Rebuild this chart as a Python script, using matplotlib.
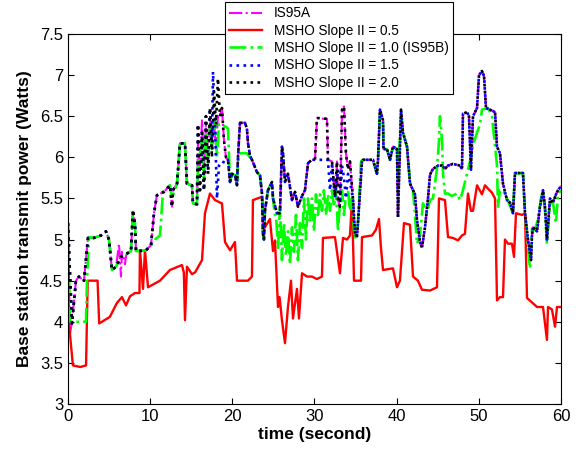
import matplotlib.pyplot as plt
from matplotlib.ticker import FuncFormatter

# time (s), power (W)
is95a_t = [0, 0.24, 0.49, 0.97, 1.34, 1.95, 2.43, 3.16, 4.02, 4.62, 4.99, 5.23, 5.35, 5.84, 5.96, 6.21, 6.45,
           6.57, 6.94, 7.06, 7.18, 7.67, 7.91, 8.15, 8.28, 8.64, 9.49, 10.1, 10.47, 10.83, 11.68, 12.41, 12.66,
           12.78, 13.27, 13.63, 14.24, 14.48, 15.09, 15.21, 15.7, 15.82, 16.06, 16.31, 16.55, 16.79, 17.04,
           17.28, 17.52, 17.77, 18.01, 18.25, 18.5, 18.74, 18.99, 19.23, 19.47, 19.72, 19.96, 20.32, 20.57,
           20.69, 20.93, 21.54, 21.78, 21.91, 22.15, 22.39, 23.0, 23.37, 23.61, 23.73, 23.85, 23.97, 24.34,
           24.83, 24.95, 25.44, 25.8, 26.04, 26.17, 26.41, 26.77, 27.26, 27.63, 27.99, 28.48, 28.84, 29.21,
           29.69, 30.06, 30.3, 31.03, 31.52, 31.64, 32.13, 32.49, 32.74, 32.86, 33.1, 33.35, 33.59, 33.83,
           34.08, 34.32, 34.68, 34.93, 35.17, 35.29, 35.78, 35.9, 37.12, 37.6, 37.73, 37.97, 38.34, 38.4,
           38.82, 39.19, 39.55, 40.04, 40.16, 40.53, 40.77, 41.26, 41.62, 41.99, 42.23, 42.47, 42.84, 43.08,
           43.45, 43.81, 44.06, 44.42, 45.03, 45.52, 45.88, 46.25, 46.85, 47.71, 47.95, 48.07, 48.56, 48.8,
           49.04, 49.29, 49.78, 50.02, 50.38, 50.63, 50.87, 51.36, 51.97, 52.21, 52.57, 52.82, 52.94, 53.43,
           53.79, 54.16, 54.4, 55.37, 55.62, 55.98, 56.35, 56.47, 56.59, 57.08, 57.44, 57.81, 58.05, 58.29,
           58.66, 59.02, 59.39, 59.63, 60]
is95a_v = [5.2, 3.85, 4.0, 4.5, 4.55, 4.5, 5.02, 5.02, 5.05, 5.1, 5.0, 4.75, 4.63, 4.67, 4.75, 4.95, 4.55,
           4.85, 4.7, 4.8, 4.83, 4.86, 5.36, 5.2, 4.86, 4.86, 4.87, 4.93, 5.32, 5.54, 5.58, 5.66, 5.4,
           5.6, 5.68, 6.17, 6.17, 5.68, 5.66, 5.44, 5.43, 6.2, 5.9, 6.45, 5.85, 6.4, 5.9,
           6.5, 6.1, 6.45, 6.1, 6.5, 6.5, 6.6, 6.2, 6.0, 5.97, 5.7, 5.8, 5.78, 5.66,
           6.0, 6.42, 6.42, 6.35, 6.17, 6.02, 5.97, 5.82, 5.78, 5.56, 5.07, 5.0, 5.35, 5.6,
           5.7, 5.5, 5.32, 5.32, 6.13, 6.05, 5.7, 5.8, 5.48, 5.58, 5.4, 5.53, 5.6, 5.93,
           5.97, 5.97, 6.48, 6.47, 6.47, 5.97, 5.95, 5.53, 5.95, 5.48, 5.4, 6.58, 6.62, 6.05,
           5.85, 5.95, 5.5, 5.07, 5.03, 5.2, 5.95, 5.97, 5.97, 5.8, 5.97, 6.58, 6.45, 6.1,
           6.1, 5.97, 6.13, 6.1, 5.27, 6.58, 6.3, 6.13, 5.68, 5.6, 5.55, 5.24, 4.97, 4.9,
           5.15, 5.5, 5.79, 5.86, 5.9, 5.9, 5.86, 5.9, 5.92, 5.9, 5.86, 6.53, 6.55, 6.5,
           5.85, 6.5, 6.6, 7.0, 7.05, 6.99, 6.6, 6.58, 6.55, 6.13, 6.05, 5.8, 5.68, 5.48,
           5.45, 5.32, 5.81, 5.81, 5.32, 5.0, 4.75, 5.05, 5.15, 5.1, 5.4, 5.6, 5.4, 5.0,
           5.5, 5.45, 5.55, 5.6, 5.65]

slope05_t = [0, 0.1, 0.6, 1.5, 2.2, 2.4, 3.6, 3.8, 5.1, 5.96, 6.57, 7.06, 7.55, 8.15, 8.7, 8.76, 9.13, 9.37,
             9.74, 11.2, 12.41, 13.87, 14.1, 14.24, 14.48, 15.09, 15.46, 16.31, 16.67, 17.28, 17.89, 18.74,
             19.11, 19.72, 20.32, 20.57, 21.9, 22.39, 22.51, 23.61, 23.97, 24.58, 24.95, 25.19, 25.56, 25.75,
             26.04, 26.41, 26.77, 27.14, 27.38, 27.87, 28.11, 28.48, 29.09, 29.69, 30.3, 30.91, 31.03, 32.49,
             33.1, 33.47, 33.95, 34.32, 34.56, 34.81, 35.66, 35.78, 37.0, 37.48, 37.85, 38.09, 38.34, 39.55,
             40.04, 40.4, 40.89, 41.62, 41.99, 42.59, 43.08, 44.06, 44.91, 45.15, 45.88, 46.25, 46.85, 47.46,
             47.95, 48.31, 48.68, 49.04, 49.29, 49.78, 50.38, 50.75, 51.11, 51.6, 51.97, 52.21, 52.57, 52.94,
             53.18, 53.55, 54.03, 54.28, 54.52, 55.25, 55.62, 55.86, 57.08, 57.81, 58.29, 58.42, 58.9, 59.27,
             59.51, 60]
slope05_v = [5.2, 4.0, 3.47, 3.45, 3.47, 4.5, 4.5, 3.98, 4.06, 4.23, 4.3, 4.2, 4.31, 4.35, 4.35, 4.87, 4.4, 4.87,
             4.42, 4.5, 4.63, 4.69, 4.6, 4.02, 4.67, 4.58, 4.6, 4.75, 5.32, 5.56, 5.48, 5.44,
             4.97, 4.87, 4.97, 4.5, 4.5, 4.55, 5.48, 5.52, 5.15, 5.25, 4.86, 4.99, 4.18, 4.3,
             4.02, 3.74, 4.18, 4.5, 4.04, 4.4, 4.04, 4.59, 4.55, 4.55, 4.52, 4.55, 5.02, 5.03,
             4.59, 5.02, 5.0, 5.05, 5.48, 4.5, 4.5, 5.03, 5.05, 5.12, 5.25, 4.9, 4.63, 4.65,
             4.42, 4.5, 5.2, 5.18, 4.55, 4.5, 4.39, 4.38, 4.42, 5.5, 5.48, 5.03, 5.02, 4.99,
             5.05, 5.07, 5.56, 5.35, 5.35, 5.66, 5.55, 5.66, 5.62, 5.57, 5.5, 4.26, 4.3, 4.3,
             5.0, 4.95, 4.95, 4.79, 5.32, 5.3, 5.32, 4.29, 4.18, 4.18, 3.78, 4.18, 4.15, 3.94,
             4.18, 4.18]

slope10_t = [0, 0.24, 2.19, 2.31, 2.56, 3.16, 4.02, 4.62, 4.99, 5.23, 5.35, 5.84, 6.45, 7.18, 7.67, 7.91, 8.15,
             8.28, 8.64, 9.49, 10.1, 10.59, 11.2, 11.56, 12.41, 12.66, 13.27, 13.63, 14.24, 14.48, 15.09, 15.21,
             15.7, 15.82, 16.31, 16.55, 16.79, 17.04, 17.28, 17.52, 17.89, 18.13, 18.38, 18.74, 19.23, 19.47,
             19.72, 19.96, 20.32, 20.57, 20.69, 20.93, 21.78, 22.15, 22.39, 23.0, 23.37, 23.61, 23.73, 23.85,
             23.97, 24.34, 24.83, 24.95, 25.19, 25.31, 25.56, 25.8, 26.04, 26.28, 26.53, 26.77, 27.02, 27.26,
             27.5, 27.75, 27.99, 28.23, 28.48, 28.72, 28.97, 29.21, 29.45, 29.69, 29.94, 30.18, 30.42, 30.67,
             30.91, 31.15, 31.4, 31.64, 31.89, 32.13, 32.37, 32.61, 32.86, 33.1, 33.35, 33.59, 33.83, 34.08,
             34.32, 34.56, 34.81, 35.05, 35.29, 35.66, 35.9, 37.12, 37.6, 37.73, 37.97, 38.34, 38.4, 38.82,
             39.19, 39.55, 40.04, 40.16, 40.53, 40.77, 41.26, 41.62, 41.99, 42.23, 42.47, 42.84, 43.2, 43.69,
             44.06, 44.42, 44.91, 45.15, 45.27, 45.52, 45.64, 45.88, 46.25, 46.73, 47.34, 47.71, 48.07, 48.56,
             48.92, 49.29, 49.78, 50.14, 50.38, 51.11, 51.6, 51.97, 52.21, 52.33, 52.57, 52.94, 53.43, 54.16,
             54.4, 55.37, 55.62, 55.98, 56.22, 56.47, 56.84, 57.2, 57.57, 57.81, 58.05, 58.29, 58.66, 59.02,
             59.39, 59.63, 60]
slope10_v = [5.2, 4.0, 4.0, 4.5, 5.03, 5.02, 5.05, 5.1, 5.0, 4.75, 4.63, 4.67, 4.79, 4.83, 4.86, 5.36, 5.2,
             4.86, 4.86, 4.87, 4.93, 5.0, 5.05, 5.58, 5.66, 5.5, 5.68, 6.17, 6.17, 5.68, 5.66, 5.44,
             5.43, 5.9, 6.2, 5.7, 6.3, 5.9, 6.4, 6.1, 6.45, 6.0, 6.4, 6.4, 6.37, 6.35,
             5.7, 5.8, 5.78, 5.66, 5.95, 6.05, 6.05, 6.0, 5.97, 5.82, 5.78, 5.56, 5.07, 5.0,
             5.35, 5.6, 5.7, 5.5, 5.3, 5.3, 4.9, 5.4, 4.75, 5.2, 4.8, 5.1, 4.7, 5.15,
             4.85, 5.3, 4.75, 5.2, 4.9, 5.5, 5.0, 5.5, 5.2, 5.5, 5.1, 5.55, 5.3, 5.55,
             5.35, 5.6, 5.3, 5.55, 5.35, 5.6, 5.4, 5.6, 5.1, 5.45, 5.6, 5.3, 5.55, 5.6,
             5.35, 5.5, 5.1, 5.0, 5.2, 5.95, 5.97, 5.97, 5.8, 5.97, 6.55, 6.4, 6.1, 6.1,
             5.97, 6.13, 6.1, 5.75, 6.5, 6.3, 6.13, 5.7, 5.6, 5.3, 4.95, 5.05, 5.44, 5.32,
             5.48, 5.5, 5.87, 6.2, 6.5, 6.2, 5.8, 5.56, 5.56, 5.53, 5.56, 5.48, 5.6, 5.8,
             5.95, 6.15, 6.3, 6.4, 6.58, 6.6, 6.5, 6.13, 5.9, 5.4, 5.6, 5.6, 5.5, 5.32,
             5.8, 5.81, 5.32, 4.9, 4.65, 5.13, 5.12, 5.25, 5.5, 5.6, 5.35, 4.95, 5.44, 5.45,
             5.2, 5.55, 5.6]

slope15_t = [0, 0.49, 0.97, 1.34, 1.95, 2.43, 3.16, 4.02, 4.62, 4.99, 5.23, 5.35, 5.84, 6.45, 7.18, 7.67, 7.91,
             8.15, 8.28, 8.64, 9.49, 10.1, 10.47, 10.83, 11.68, 12.41, 12.66, 12.78, 13.27, 13.63, 14.24, 14.48,
             15.09, 15.21, 15.7, 15.82, 16.06, 16.31, 16.55, 16.79, 17.04, 17.28, 17.52, 17.65, 17.89, 18.13,
             18.38, 18.74, 19.23, 19.47, 19.72, 19.96, 20.32, 20.57, 20.69, 20.93, 21.54, 21.78, 21.91, 22.15,
             22.39, 23.0, 23.37, 23.61, 23.73, 23.85, 23.97, 24.34, 24.83, 24.95, 25.44, 25.8, 26.04, 26.17,
             26.41, 26.77, 27.26, 27.63, 27.99, 28.48, 28.84, 29.21, 29.69, 30.06, 31.4, 31.64, 31.89, 32.13,
             32.49, 32.86, 33.1, 33.35, 33.59, 33.83, 34.08, 34.32, 34.68, 34.93, 35.17, 35.29, 35.78, 35.9,
             37.12, 37.6, 37.73, 37.97, 38.34, 38.4, 38.82, 39.19, 39.55, 40.04, 40.16, 40.53, 40.77, 41.26,
             41.62, 41.99, 42.23, 42.47, 42.84, 43.08, 43.45, 43.81, 44.06, 44.42, 45.03, 45.52, 45.88, 46.25,
             46.85, 47.71, 47.95, 48.07, 48.56, 48.8, 49.04, 49.29, 49.78, 50.02, 50.38, 50.63, 50.87, 51.36,
             51.97, 52.21, 52.57, 52.82, 52.94, 53.43, 53.79, 54.16, 54.4, 55.37, 55.62, 55.98, 56.35, 56.47,
             56.59, 57.08, 57.44, 57.81, 58.05, 58.29, 58.66, 59.02, 59.39, 59.63, 60]
slope15_v = [5.2, 3.98, 4.5, 4.55, 4.5, 5.02, 5.02, 5.05, 5.1, 5.0, 4.75, 4.63, 4.67, 4.79, 4.83, 4.86, 5.36,
             5.2, 4.86, 4.86, 4.87, 4.93, 5.32, 5.54, 5.58, 5.66, 5.4, 5.6, 5.68, 6.17, 6.17, 5.68,
             5.66, 5.44, 5.43, 6.4, 5.6, 6.3, 5.6, 6.5, 5.8, 6.6, 6.2, 7.04, 6.4, 5.5,
             5.9, 5.95, 5.93, 5.97, 5.7, 5.8, 5.78, 5.66, 6.0, 6.42, 6.42, 6.35, 6.17, 6.02,
             5.97, 5.82, 5.78, 5.56, 5.07, 5.0, 5.35, 5.6, 5.7, 5.5, 5.32, 5.32, 6.13, 6.05,
             5.7, 5.8, 5.48, 5.58, 5.4, 5.53, 5.6, 5.93, 5.97, 5.97, 5.97, 5.97, 5.6, 5.9,
             5.5, 5.85, 5.45, 5.9, 5.75, 5.5, 5.8, 5.7, 5.5, 5.07, 5.03, 5.2, 5.95, 5.97,
             5.97, 5.8, 5.97, 6.58, 6.45, 6.1, 6.1, 5.97, 6.13, 6.1, 5.27, 6.58, 6.3, 6.13,
             5.68, 5.6, 5.55, 5.24, 4.97, 4.9, 5.15, 5.5, 5.79, 5.86, 5.9, 5.9, 5.86, 5.9,
             5.92, 5.9, 5.86, 6.53, 6.55, 6.5, 5.85, 6.5, 6.6, 7.0, 7.05, 6.99, 6.6, 6.58,
             6.55, 6.13, 6.05, 5.8, 5.68, 5.48, 5.45, 5.32, 5.81, 5.81, 5.32, 5.0, 4.75, 5.05,
             5.15, 5.1, 5.4, 5.6, 5.4, 5.0, 5.5, 5.45, 5.55, 5.6, 5.65]

slope20_t = [0, 0.49, 0.97, 1.34, 1.95, 2.43, 3.16, 4.02, 4.62, 4.99, 5.23, 5.35, 5.84, 6.45, 7.18, 7.67, 7.91,
             8.15, 8.28, 8.64, 9.49, 10.1, 10.47, 10.83, 11.68, 12.41, 12.66, 12.78, 13.27, 13.63, 14.24, 14.48,
             15.09, 15.21, 15.7, 15.82, 16.06, 16.31, 16.55, 16.79, 17.04, 17.28, 17.52, 17.77, 18.01, 18.25,
             18.5, 18.74, 18.99, 19.23, 19.47, 19.72, 19.96, 20.32, 20.57, 20.69, 20.93, 21.54, 21.78, 21.91,
             22.15, 22.39, 23.0, 23.37, 23.61, 23.73, 23.85, 23.97, 24.34, 24.83, 24.95, 25.44, 25.8, 26.04,
             26.17, 26.41, 26.77, 27.26, 27.63, 27.99, 28.48, 28.84, 29.21, 29.69, 30.06, 30.3, 31.03, 31.52,
             31.64, 32.13, 32.49, 32.74, 32.86, 33.1, 33.35, 33.59, 33.83, 34.08, 34.32, 34.68, 34.93, 35.17,
             35.29, 35.78, 35.9, 37.12, 37.6, 37.73, 37.97, 38.34, 38.4, 38.82, 39.19, 39.55, 40.04, 40.16,
             40.53, 40.77, 41.26, 41.62, 41.99, 42.23, 42.47, 42.84, 43.08, 43.45, 43.81, 44.06, 44.42, 45.03,
             45.52, 45.88, 46.25, 46.85, 47.71, 47.95, 48.07, 48.56, 48.8, 49.04, 49.29, 49.78, 50.02, 50.38,
             50.63, 50.87, 51.36, 51.97, 52.21, 52.57, 52.82, 52.94, 53.43, 53.79, 54.16, 54.4, 55.37, 55.62,
             55.98, 56.35, 56.47, 56.59, 57.08, 57.44, 57.81, 58.05, 58.29, 58.66, 59.02, 59.39, 59.63, 60]
slope20_v = [5.2, 3.98, 4.5, 4.55, 4.5, 5.02, 5.02, 5.05, 5.1, 5.0, 4.75, 4.63, 4.67, 4.79, 4.83, 4.86, 5.36,
             5.2, 4.86, 4.86, 4.87, 4.93, 5.32, 5.54, 5.58, 5.66, 5.4, 5.6, 5.68, 6.17, 6.17, 5.68,
             5.66, 5.44, 5.43, 6.4, 5.6, 6.3, 5.6, 6.5, 5.8, 6.6, 6.0, 6.8, 6.4, 6.96,
             6.5, 6.6, 6.2, 6.0, 5.97, 5.7, 5.8, 5.78, 5.66, 6.0, 6.42, 6.42, 6.35, 6.17,
             6.02, 5.97, 5.82, 5.78, 5.56, 5.07, 5.0, 5.35, 5.6, 5.7, 5.5, 5.32, 5.32, 6.13,
             6.05, 5.7, 5.8, 5.48, 5.58, 5.4, 5.53, 5.6, 5.93, 5.97, 5.97, 6.48, 6.47, 6.47,
             5.97, 5.95, 5.53, 5.95, 5.48, 5.4, 6.58, 6.62, 6.05, 5.85, 5.95, 5.5, 5.07, 5.03,
             5.2, 5.95, 5.97, 5.97, 5.8, 5.97, 6.58, 6.45, 6.1, 6.1, 5.97, 6.13, 6.1, 5.27,
             6.58, 6.3, 6.13, 5.68, 5.6, 5.55, 5.24, 4.97, 4.9, 5.15, 5.5, 5.79, 5.86, 5.9,
             5.9, 5.86, 5.9, 5.92, 5.9, 5.86, 6.53, 6.55, 6.5, 5.85, 6.5, 6.6, 7.0, 7.05,
             6.99, 6.6, 6.58, 6.55, 6.13, 6.05, 5.8, 5.68, 5.48, 5.45, 5.32, 5.81, 5.81, 5.32,
             5.0, 4.75, 5.05, 5.15, 5.1, 5.4, 5.6, 5.4, 5.0, 5.5, 5.45, 5.55, 5.6, 5.65]

x_ticks = [0, 10, 20, 30, 40, 50, 60]
y_ticks = [3, 3.5, 4, 4.5, 5, 5.5, 6, 6.5, 7, 7.5]

plt.rcParams['font.family'] = ['Liberation Sans', 'DejaVu Sans']

fig = plt.figure(figsize=(5.78, 4.5), dpi=100)
ax = fig.add_axes([0.1176, 0.1022, 0.853, 0.8222])

ax.plot(is95a_t, is95a_v, color='magenta', linestyle='-.', linewidth=1.5, label='IS95A')
ax.plot(slope05_t, slope05_v, color='red', linestyle='-', linewidth=1.7, label='MSHO Slope II = 0.5')
ax.plot(slope10_t, slope10_v, color='#00ff00', linestyle='-.', linewidth=1.9,
        label='MSHO Slope II = 1.0 (IS95B)')
ax.plot(slope15_t, slope15_v, color='blue', linestyle=':', linewidth=1.9, label='MSHO Slope II = 1.5')
ax.plot(slope20_t, slope20_v, color='black', linestyle=':', linewidth=1.9, label='MSHO Slope II = 2.0')

ax.set_xlim(0, 60)
ax.set_ylim(3, 7.5)
ax.set_xticks(x_ticks)
ax.set_yticks(y_ticks)
ax.yaxis.set_major_formatter(FuncFormatter(lambda v, p: '%g' % v))
ax.tick_params(direction='in', top=True, right=True, length=4, labelsize=12)

ax.set_xlabel('time (second)', fontsize=12.5, fontweight='bold', labelpad=2)
ax.set_ylabel('Base station transmit power (Watts)', fontsize=12.5, fontweight='bold', labelpad=6)

leg = ax.legend(loc='upper left', bbox_to_anchor=(0.318, 1.086), fontsize=9.8, frameon=True,
                fancybox=False, edgecolor='black', framealpha=1, handlelength=2.4,
                labelspacing=0.25, borderpad=0.3, handletextpad=0.9, borderaxespad=0)
leg.get_frame().set_linewidth(0.8)

fig.savefig('out.png', dpi=100, facecolor='white')
